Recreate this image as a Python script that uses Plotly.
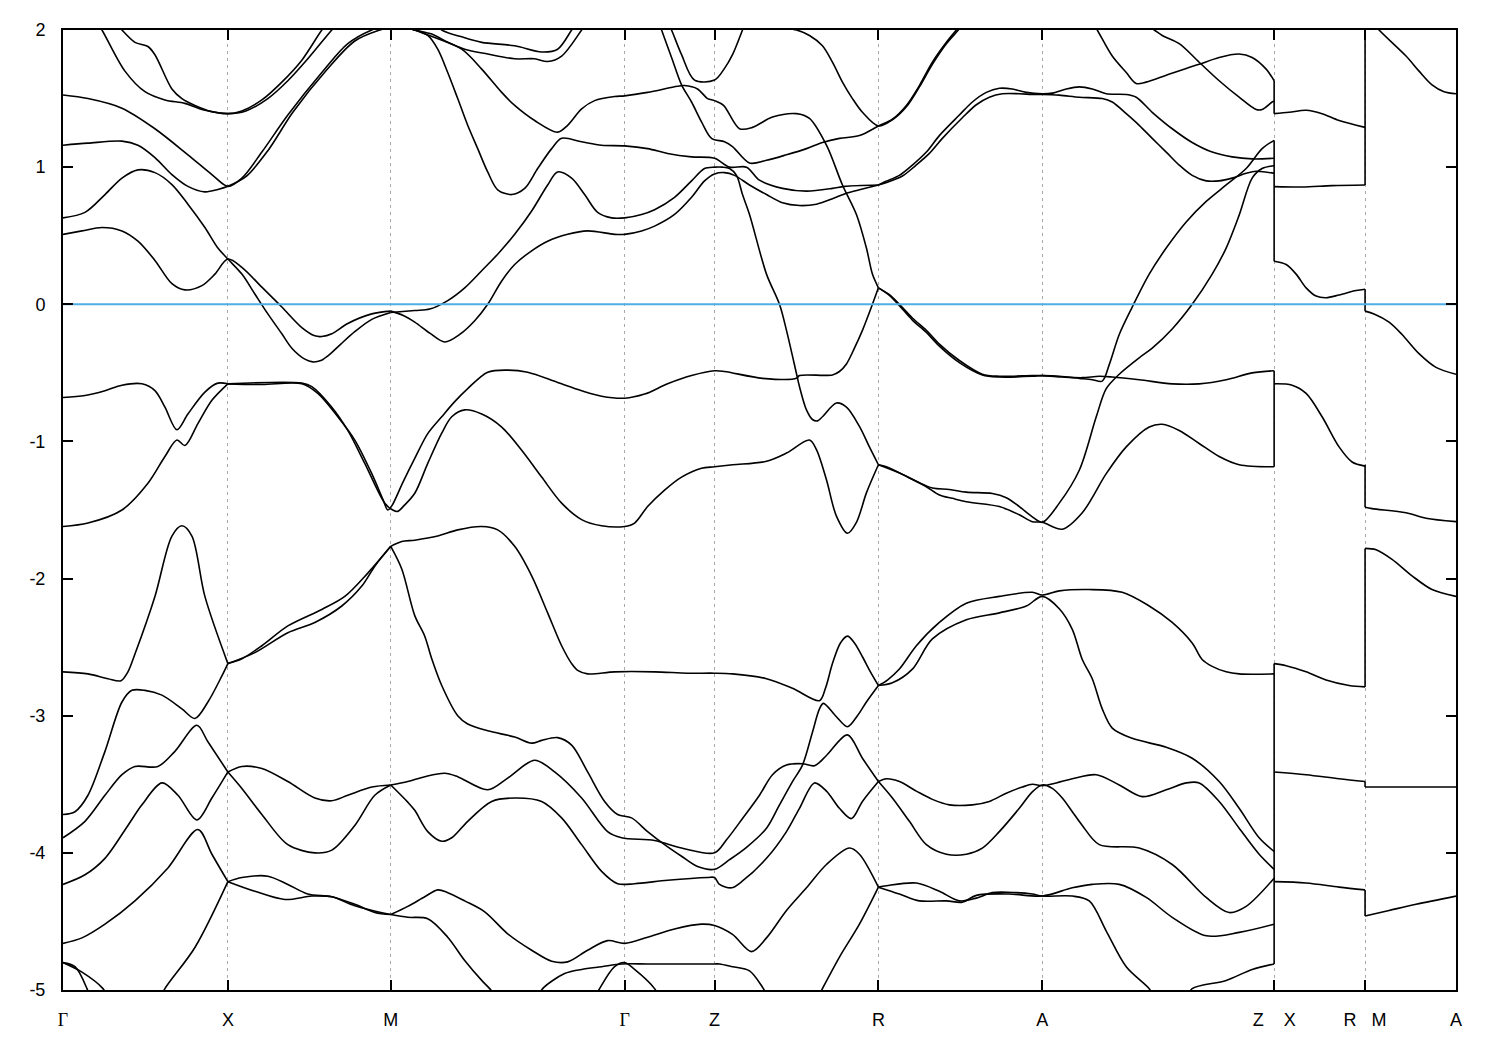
import plotly.graph_objects as go

# ---------------- high-symmetry points along the k-path ----------------
kpoint_pos = [0, 165, 328, 562, 652, 816, 980, 1212, 1303, 1394]
kpoint_lab = ['<span style="font-family:Liberation Serif">Γ</span>', "X", "M",
              '<span style="font-family:Liberation Serif">Γ</span>', "Z", "R", "A",
              "Z\u00a0\u00a0\u00a0\u00a0X", "R\u00a0\u00a0\u00a0M", "A"]
energy_ticks = [2, 1, 0, -1, -2, -3, -4, -5]
fermi_level = 0.0

# ---------------- bands (path coordinate, energy in eV) ----------------
a_k = [22, 39, 62, 82, 102, 122, 139, 165, 179, 199, 219, 239, 259, 272]
a_E = [2.2, 2.0, 1.70, 1.55, 1.49, 1.465, 1.42, 1.39, 1.41, 1.49, 1.62, 1.78, 2.0, 2.12]
b_k = [45, 59, 72, 85, 92, 109, 119, 132, 149, 165, 183, 205, 225, 245, 269, 282]
b_E = [2.12, 2.0, 1.91, 1.88, 1.82, 1.57, 1.50, 1.45, 1.405, 1.39, 1.41, 1.50, 1.63, 1.79, 2.0, 2.1]
c_k = [0, 25, 59, 92, 125, 149, 165, 179, 199, 225, 259, 285, 309, 328]
c_E = [1.526, 1.50, 1.43, 1.28, 1.09, 0.946, 0.86, 0.92, 1.11, 1.38, 1.69, 1.90, 2.0, 2.04]
d_k = [0, 25, 59, 75, 92, 109, 125, 142, 155, 165, 183, 205, 230, 264, 292, 317, 328]
d_E = [1.16, 1.175, 1.19, 1.16, 1.07, 0.946, 0.86, 0.82, 0.837, 0.86, 0.93, 1.12, 1.40, 1.71, 1.92, 2.0, 2.02]
e_k = [0, 22, 42, 59, 75, 92, 109, 125, 142, 155, 165, 179, 192, 205, 219, 229, 242, 250, 258, 266, 278, 292, 309, 328]
e_E = [0.63, 0.67, 0.80, 0.92, 0.98, 0.96, 0.873, 0.73, 0.56, 0.41, 0.33, 0.22, 0.075, -0.07, -0.215, -0.32,
       -0.40, -0.42, -0.41, -0.37, -0.29, -0.20, -0.11, -0.06]
f_k = [0, 19, 39, 59, 75, 92, 109, 122, 139, 152, 165, 179, 199, 219, 239, 252, 259, 269, 285, 309, 328]
f_E = [0.51, 0.535, 0.56, 0.535, 0.46, 0.32, 0.15, 0.105, 0.136, 0.22, 0.33, 0.27, 0.125, -0.02, -0.17,
       -0.23, -0.235, -0.215, -0.14, -0.07, -0.05]
D2_k = [328, 352, 367, 385, 402, 419, 435, 452, 469, 485, 495, 509, 522, 535, 549, 562, 579, 592, 612, 629,
        642, 652, 660, 667, 674, 680, 687, 704, 717, 724, 734, 737, 744, 750, 755, 760, 774, 784, 797, 807, 816]
D2_E = [-0.06, -0.045, -0.035, 0.027, 0.12, 0.245, 0.365, 0.51, 0.68, 0.87, 0.965, 0.92, 0.80, 0.67, 0.63,
        0.63, 0.655, 0.69, 0.78, 0.90, 0.99, 1.0, 1.0, 0.99, 0.94, 0.80, 0.655, 0.22, 0.0, -0.19, -0.505,
        -0.6, -0.77, -0.84, -0.85, -0.82, -0.72, -0.75, -0.89, -1.04, -1.17]
E2_k = [328, 340, 352, 367, 382, 397, 412, 425, 439, 452, 469, 485, 505, 525, 552, 562, 579, 592, 612, 629,
        642, 652, 662, 672, 687, 704, 720, 737, 754, 770, 784, 797, 816]
E2_E = [-0.05, -0.08, -0.13, -0.21, -0.275, -0.22, -0.12, 0.0, 0.17, 0.29, 0.39, 0.46, 0.51, 0.535, 0.51,
        0.51, 0.535, 0.57, 0.655, 0.78, 0.90, 0.95, 0.96, 0.94, 0.87, 0.80, 0.74, 0.72, 0.73, 0.77, 0.81,
        0.835, 0.87]
M1_k = [0, 22, 42, 59, 79, 92, 102, 114, 125, 142, 155, 165]
M1_E = [-0.68, -0.665, -0.63, -0.59, -0.58, -0.63, -0.75, -0.915, -0.80, -0.64, -0.575, -0.58]
M2_k = [0, 25, 59, 85, 102, 114, 122, 135, 149, 165]
M2_E = [-1.62, -1.595, -1.50, -1.305, -1.11, -0.99, -1.03, -0.87, -0.70, -0.58]
P1_k = [165, 199, 239, 255, 275, 292, 309, 320, 325, 329, 340, 352, 365, 379, 392, 405, 425, 445, 465, 495,
        519, 539, 562, 582, 605, 629, 652, 662, 700, 734, 737, 770, 777, 784, 792, 800, 810, 816]
P1_E = [-0.58, -0.585, -0.58, -0.65, -0.82, -0.99, -1.235, -1.42, -1.50, -1.47, -1.30, -1.124, -0.943, -0.82,
        -0.71, -0.615, -0.495, -0.48, -0.495, -0.57, -0.63, -0.67, -0.685, -0.655, -0.58, -0.52, -0.485,
        -0.49, -0.54, -0.54, -0.52, -0.515, -0.49, -0.435, -0.32, -0.19, 0.0, 0.12]
P2_k = [165, 239, 249, 269, 285, 302, 322, 330, 335, 341, 352, 365, 379, 389, 402, 419, 439, 459, 479, 499,
        519, 539, 562, 572, 585, 602, 619, 639, 652, 670, 704, 724, 747, 754, 764, 774, 785, 794, 804, 816]
P2_E = [-0.58, -0.575, -0.60, -0.75, -0.92, -1.16, -1.45, -1.50, -1.51, -1.47, -1.378, -1.16, -0.94, -0.82,
        -0.77, -0.80, -0.895, -1.065, -1.26, -1.45, -1.57, -1.615, -1.62, -1.595, -1.475, -1.355, -1.26,
        -1.195, -1.185, -1.17, -1.145, -1.085, -0.99, -1.06, -1.28, -1.545, -1.67, -1.59, -1.375, -1.17]
L1_k = [0, 25, 45, 58, 65, 72, 92, 109, 119, 129, 142, 165]
L1_E = [-2.68, -2.695, -2.73, -2.745, -2.68, -2.55, -2.13, -1.69, -1.615, -1.69, -2.13, -2.62]
L2_k = [0, 12, 25, 42, 59, 69, 82, 99, 119, 132, 145, 159, 165]
L2_E = [-3.72, -3.70, -3.58, -3.26, -2.90, -2.815, -2.815, -2.85, -2.95, -3.02, -2.90, -2.71, -2.62]
L3_k = [0, 22, 42, 59, 72, 95, 112, 134, 145, 165]
L3_E = [-3.89, -3.77, -3.58, -3.43, -3.37, -3.37, -3.26, -3.07, -3.19, -3.41]
L4_k = [0, 22, 42, 65, 79, 99, 115, 134, 149, 165]
L4_E = [-4.23, -4.16, -4.04, -3.80, -3.65, -3.49, -3.58, -3.76, -3.60, -3.41]
L5_k = [0, 19, 42, 72, 105, 135, 149, 165]
L5_E = [-4.66, -4.62, -4.52, -4.35, -4.11, -3.83, -4.01, -4.21]
L6_k = [96, 102, 132, 165]
L6_E = [-5.08, -4.99, -4.69, -4.21]
L7_k = [0, 12, 24, 27]
L7_E = [-4.80, -4.83, -4.99, -5.06]
L8_k = [0, 19, 40, 44]
L8_E = [-4.80, -4.87, -4.99, -5.04]
N1_k = [165, 179, 199, 225, 259, 282, 305, 328]
N1_E = [-2.62, -2.585, -2.49, -2.345, -2.225, -2.13, -1.96, -1.765]
N2_k = [165, 192, 225, 252, 279, 299, 312, 328]
N2_E = [-2.62, -2.54, -2.395, -2.32, -2.20, -2.055, -1.91, -1.765]
N3_k = [328, 339, 352, 375, 395, 419, 435, 452, 469, 485, 499, 509, 515, 525, 552, 592, 625, 652, 670, 704,
        730, 757, 763, 770, 778, 785, 792, 800, 808, 816]
N3_E = [-1.765, -1.73, -1.72, -1.69, -1.645, -1.62, -1.645, -1.765, -1.98, -2.25, -2.49, -2.62, -2.67,
        -2.695, -2.68, -2.68, -2.69, -2.69, -2.695, -2.73, -2.80, -2.89, -2.80, -2.62, -2.47, -2.42, -2.47,
        -2.57, -2.68, -2.78]
N4_k = [328, 339, 352, 362, 369, 379, 395, 405, 425, 452, 469, 479, 495, 509, 525, 542, 555, 569, 585, 602,
        619, 635, 652, 667, 684, 704, 717, 730, 740, 750, 757, 761, 773, 785, 795, 804, 816]
N4_E = [-1.765, -1.93, -2.27, -2.42, -2.585, -2.78, -3.0, -3.06, -3.11, -3.155, -3.20, -3.18, -3.16, -3.215,
        -3.41, -3.625, -3.72, -3.745, -3.845, -3.94, -4.025, -4.10, -4.12, -4.05, -3.96, -3.82, -3.65, -3.48,
        -3.36, -3.12, -2.95, -2.91, -3.0, -3.08, -3.0, -2.90, -2.78]
N5_k = [328, 345, 362, 382, 395, 425, 445, 472, 492, 519, 545, 559, 592, 619, 652, 664, 680, 697, 710, 724,
        740, 752, 764, 785, 800, 816]
N5_E = [-3.505, -3.48, -3.445, -3.42, -3.445, -3.54, -3.455, -3.325, -3.41, -3.60, -3.845, -3.89, -3.91,
        -3.965, -4.0, -3.905, -3.75, -3.58, -3.43, -3.36, -3.35, -3.365, -3.29, -3.14, -3.31, -3.48]
N6_k = [328, 345, 352, 365, 379, 389, 405, 429, 452, 479, 499, 519, 539, 555, 572, 605, 645, 652, 657, 669,
        680, 704, 724, 737, 752, 764, 777, 789, 800, 816]
N6_E = [-3.505, -3.63, -3.69, -3.845, -3.915, -3.89, -3.77, -3.625, -3.60, -3.625, -3.745, -3.94, -4.135,
        -4.225, -4.225, -4.20, -4.18, -4.18, -4.23, -4.255, -4.205, -4.04, -3.845, -3.675, -3.49, -3.55,
        -3.675, -3.75, -3.625, -3.48]
Q1_k = [165, 179, 199, 225, 252, 269, 285, 309, 328]
Q1_E = [-3.41, -3.37, -3.385, -3.48, -3.60, -3.62, -3.58, -3.52, -3.505]
Q2_k = [165, 179, 199, 225, 252, 269, 292, 312, 328]
Q2_E = [-3.41, -3.53, -3.72, -3.94, -4.0, -3.98, -3.80, -3.58, -3.505]
S1_k = [165, 179, 205, 225, 245, 269, 292, 312, 328]
S1_E = [-4.21, -4.18, -4.17, -4.23, -4.30, -4.32, -4.375, -4.435, -4.45]
S2_k = [165, 192, 222, 249, 269, 292, 328]
S2_E = [-4.21, -4.28, -4.34, -4.315, -4.32, -4.385, -4.45]
S3_k = [328, 345, 362, 375, 385, 402, 422, 445, 469, 489, 505, 525, 545, 562, 585, 612, 639, 652, 670, 689,
        704, 724, 744, 764, 787, 797, 816]
S3_E = [-4.45, -4.39, -4.32, -4.27, -4.29, -4.35, -4.43, -4.59, -4.71, -4.79, -4.795, -4.71, -4.64, -4.66,
        -4.615, -4.555, -4.52, -4.53, -4.595, -4.72, -4.62, -4.42, -4.255, -4.085, -3.965, -4.01, -4.25]
S4_k = [328, 345, 365, 385, 402, 419, 427, 434]
S4_E = [-4.45, -4.47, -4.48, -4.615, -4.785, -4.93, -4.99, -5.06]
U1_k = [475, 480, 502, 519, 539, 559, 585, 620, 652, 657, 670, 687, 700, 706]
U1_E = [-5.06, -4.99, -4.88, -4.85, -4.83, -4.81, -4.81, -4.81, -4.81, -4.81, -4.83, -4.86, -4.98, -5.06]
U2_k = [532, 537, 552, 562, 572, 592, 597]
U2_E = [-5.06, -4.99, -4.83, -4.80, -4.85, -4.99, -5.06]
A2_k = [328, 352, 365, 375, 385, 395, 405, 415, 425, 435, 449, 462, 475, 489, 499, 519, 539, 562, 585, 605,
        629, 652, 667, 684, 697, 720, 744, 770, 782, 816]
A2_E = [2.04, 2.0, 1.96, 1.86, 1.69, 1.50, 1.305, 1.135, 0.965, 0.835, 0.80, 0.845, 0.99, 1.135, 1.21, 1.185,
        1.16, 1.155, 1.135, 1.10, 1.075, 1.065, 1.0, 1.0, 0.905, 0.845, 0.825, 0.845, 0.86, 0.87]
RAt1_k = [816, 823, 837, 850, 864, 877, 897, 910, 924, 937, 950, 964, 980, 990, 1004, 1017, 1030, 1044, 1064,
          1074, 1090, 1110, 1130, 1150, 1170, 1190, 1212]
RAt1_E = [0.87, 0.895, 0.94, 1.015, 1.11, 1.23, 1.38, 1.475, 1.545, 1.575, 1.57, 1.545, 1.535, 1.54, 1.57,
          1.585, 1.57, 1.535, 1.53, 1.51, 1.40, 1.28, 1.18, 1.11, 1.075, 1.06, 1.065]
RAt2_k = [816, 825, 840, 853, 867, 880, 900, 914, 927, 940, 957, 970, 980, 997, 1017, 1040, 1050, 1064, 1077,
          1090, 1104, 1117, 1130, 1144, 1157, 1170, 1184, 1194, 1212]
RAt2_E = [0.87, 0.89, 0.935, 1.01, 1.10, 1.21, 1.36, 1.455, 1.51, 1.535, 1.535, 1.53, 1.53, 1.525, 1.51,
          1.50, 1.475, 1.39, 1.305, 1.21, 1.11, 1.015, 0.94, 0.90, 0.90, 0.92, 0.955, 0.97, 0.955]
B2_k = [328, 352, 372, 399, 419, 439, 452, 472, 495, 505, 519, 532, 552, 562, 585, 615, 622, 635, 645, 652,
        661, 677, 690, 710, 734, 747, 764, 780, 794, 804, 810, 816]
B2_E = [2.07, 2.0, 1.945, 1.86, 1.715, 1.545, 1.45, 1.34, 1.255, 1.305, 1.425, 1.485, 1.515, 1.52, 1.545,
        1.59, 1.595, 1.57, 1.50, 1.485, 1.45, 1.28, 1.29, 1.365, 1.39, 1.355, 1.16, 0.87, 0.655, 0.41, 0.22,
        0.12]
B2b_k = [816, 827, 837, 850, 864, 877, 897, 920, 937, 970, 980, 997, 1017, 1030, 1040, 1047, 1057, 1070,
         1087, 1104, 1124, 1144, 1164, 1184, 1200, 1212]
B2b_E = [0.12, 0.07, 0.0, -0.10, -0.19, -0.29, -0.41, -0.51, -0.525, -0.52, -0.52, -0.525, -0.54, -0.55,
         -0.56, -0.44, -0.22, -0.02, 0.22, 0.41, 0.60, 0.75, 0.87, 0.99, 1.135, 1.195]
P1b_k = [816, 827, 837, 850, 864, 877, 897, 920, 937, 970, 980, 1000, 1020, 1037, 1050, 1077, 1110, 1137,
         1164, 1190, 1212]
P1b_E = [0.12, 0.065, -0.01, -0.115, -0.205, -0.305, -0.425, -0.515, -0.53, -0.525, -0.52, -0.53, -0.535,
         -0.525, -0.53, -0.55, -0.58, -0.58, -0.55, -0.50, -0.485]
TS_k = [590, 599, 609, 619, 629, 639, 649, 662, 670, 687, 704, 724, 744, 760, 777, 797, 816, 830, 844, 857,
        870, 884, 894, 905]
TS_E = [2.18, 2.0, 1.80, 1.60, 1.475, 1.33, 1.21, 1.185, 1.15, 1.03, 1.05, 1.09, 1.135, 1.18, 1.21, 1.23,
        1.30, 1.35, 1.45, 1.595, 1.765, 1.91, 2.0, 2.1]
Z163_k = [600, 609, 619, 632, 652, 662, 670, 680, 688]
Z163_E = [2.15, 2.0, 1.82, 1.635, 1.635, 1.72, 1.82, 2.0, 2.15]
ZRt_k = [700, 715, 734, 747, 760, 770, 780, 790, 800, 816, 830, 844, 857, 870, 884, 896, 907]
ZRt_E = [2.04, 2.02, 2.0, 1.96, 1.885, 1.765, 1.62, 1.50, 1.40, 1.30, 1.345, 1.44, 1.585, 1.75, 1.90, 2.0, 2.1]
C2a_k = [365, 379, 399, 419, 452, 479, 495, 509, 520]
C2a_E = [2.1, 2.0, 1.95, 1.91, 1.885, 1.84, 1.86, 2.0, 2.12]
C2b_k = [328, 352, 369, 385, 402, 425, 452, 472, 485, 499, 519, 530]
C2b_E = [2.05, 2.0, 1.97, 1.91, 1.86, 1.825, 1.79, 1.79, 1.77, 1.81, 2.0, 2.12]
T1_k = [1025, 1035, 1050, 1064, 1074, 1084, 1104, 1124, 1137, 1157, 1177, 1190, 1204, 1212]
T1_E = [2.12, 2.0, 1.81, 1.69, 1.61, 1.62, 1.67, 1.72, 1.75, 1.80, 1.825, 1.80, 1.715, 1.63]
T2_k = [1080, 1092, 1100, 1117, 1137, 1157, 1177, 1194, 1200, 1210, 1212]
T2_E = [2.05, 2.0, 1.96, 1.90, 1.765, 1.63, 1.51, 1.42, 1.42, 1.475, 1.48]
RAm1_k = [816, 824, 844, 864, 877, 890, 904, 937, 957, 970, 980, 1000, 1020, 1044, 1064, 1087, 1100, 1117,
          1137, 1157, 1177, 1212]
RAm1_E = [-1.17, -1.185, -1.255, -1.33, -1.39, -1.415, -1.44, -1.475, -1.535, -1.585, -1.59, -1.64, -1.52,
          -1.235, -1.04, -0.895, -0.875, -0.92, -1.015, -1.11, -1.17, -1.185]
RAm2_k = [816, 837, 854, 870, 887, 904, 930, 944, 957, 970, 980, 997, 1017, 1034, 1044, 1057, 1077, 1090,
          1110, 1130, 1150, 1164, 1177, 1190, 1200, 1212]
RAm2_E = [-1.17, -1.23, -1.29, -1.34, -1.35, -1.37, -1.38, -1.41, -1.475, -1.55, -1.59, -1.45, -1.21, -0.82,
          -0.615, -0.51, -0.39, -0.32, -0.18, 0.0, 0.22, 0.41, 0.65, 0.92, 0.99, 1.01]
V1_k = [816, 825, 837, 854, 877, 904, 937, 970, 980, 997, 1027, 1060, 1087, 1110, 1130, 1140, 1150, 1164,
        1177, 1212]
V1_E = [-2.78, -2.74, -2.66, -2.49, -2.32, -2.18, -2.13, -2.10, -2.12, -2.09, -2.08, -2.10, -2.20, -2.32,
        -2.47, -2.59, -2.64, -2.68, -2.695, -2.695]
V2_k = [816, 830, 850, 870, 904, 937, 964, 980, 997, 1010, 1020, 1030, 1040, 1050, 1070, 1104, 1130, 1157,
        1177, 1197, 1212]
V2_E = [-2.78, -2.76, -2.66, -2.44, -2.30, -2.25, -2.20, -2.13, -2.22, -2.37, -2.59, -2.73, -2.95, -3.09,
        -3.165, -3.23, -3.31, -3.48, -3.675, -3.89, -3.99]
W1_k = [816, 824, 837, 854, 870, 887, 910, 927, 944, 960, 970, 980, 994, 1010, 1034, 1057, 1080, 1104, 1124,
        1137, 1157, 1177, 1197, 1212]
W1_E = [-3.48, -3.46, -3.48, -3.55, -3.61, -3.65, -3.65, -3.625, -3.565, -3.52, -3.50, -3.51, -3.49, -3.46,
        -3.43, -3.505, -3.59, -3.54, -3.49, -3.49, -3.625, -3.82, -4.01, -4.12]
W2_k = [816, 830, 847, 864, 884, 904, 920, 937, 957, 970, 980, 990, 1000, 1010, 1020, 1037, 1077, 1110, 1144,
        1167, 1184, 1212]
W2_E = [-3.48, -3.60, -3.77, -3.94, -4.01, -4.01, -3.965, -3.845, -3.675, -3.555, -3.505, -3.53, -3.60, -3.70,
        -3.80, -3.94, -3.965, -4.085, -4.325, -4.435, -4.39, -4.185]
X1_k = [816, 824, 854, 877, 897, 914, 930, 954, 970, 980, 1010, 1027, 1044, 1064, 1087, 1092]
X1_E = [-4.25, -4.24, -4.22, -4.28, -4.35, -4.33, -4.29, -4.29, -4.30, -4.315, -4.315, -4.35, -4.57, -4.83,
        -4.99, -5.05]
X2_k = [816, 837, 857, 884, 900, 914, 947, 980, 1010, 1030, 1057, 1084, 1110, 1144, 1177, 1212]
X2_E = [-4.25, -4.30, -4.35, -4.35, -4.36, -4.31, -4.30, -4.315, -4.255, -4.23, -4.23, -4.325, -4.47, -4.605,
        -4.58, -4.52]
Y1_k = [1125, 1130, 1164, 1190, 1212]
Y1_E = [-5.06, -4.99, -4.93, -4.85, -4.81]
I1_k = [755, 760, 777, 797, 816]
I1_E = [-5.06, -4.99, -4.76, -4.52, -4.25]
# X -> R
XR1_k = [1212, 1227, 1244, 1260, 1277, 1303]
XR1_E = [1.39, 1.40, 1.415, 1.39, 1.34, 1.29]
XR2_k = [1212, 1240, 1270, 1303]
XR2_E = [0.858, 0.855, 0.865, 0.87]
XR3_k = [1212, 1224, 1234, 1244, 1254, 1264, 1277, 1294, 1303]
XR3_E = [0.314, 0.29, 0.22, 0.12, 0.06, 0.048, 0.068, 0.10, 0.11]
XR4_k = [1212, 1230, 1244, 1260, 1277, 1290, 1303]
XR4_E = [-0.58, -0.59, -0.65, -0.82, -1.04, -1.15, -1.18]
XR5_k = [1212, 1224, 1244, 1264, 1287, 1303]
XR5_E = [-2.62, -2.635, -2.68, -2.74, -2.78, -2.79]
XR6_k = [1212, 1244, 1277, 1303]
XR6_E = [-3.41, -3.43, -3.46, -3.48]
XR7_k = [1212, 1244, 1277, 1303]
XR7_E = [-4.21, -4.22, -4.25, -4.27]
# M -> A
MA0_k = [1303, 1317, 1344, 1357, 1370, 1382, 1394]
MA0_E = [2.12, 2.0, 1.81, 1.70, 1.60, 1.55, 1.535]
MA1_k = [1303, 1312, 1327, 1340, 1357, 1374, 1394]
MA1_E = [-0.05, -0.07, -0.13, -0.22, -0.36, -0.46, -0.51]
MA2_k = [1303, 1310, 1344, 1364, 1394]
MA2_E = [-1.48, -1.49, -1.52, -1.56, -1.585]
MA3_k = [1303, 1314, 1330, 1350, 1370, 1394]
MA3_E = [-1.78, -1.79, -1.86, -1.98, -2.08, -2.13]
MA4_k = [1303, 1394]
MA4_E = [-3.52, -3.52]
MA5_k = [1303, 1327, 1354, 1394]
MA5_E = [-4.46, -4.42, -4.375, -4.315]

# discontinuities of the path (Z|X and R|M): energies joined by vertical segments
zx_jump_upper = [1.63, 1.195, -0.485, -2.62]
zx_jump_lower = [1.39, 0.314, -1.185, -4.81]
rm_jump_upper = [2.12, 0.11, -1.17, -1.78, -3.48, -4.27]
rm_jump_lower = [0.87, -0.05, -1.48, -2.79, -3.52, -4.46]

bands = [
    (a_k, a_E), (b_k, b_E), (c_k, c_E), (d_k, d_E), (e_k, e_E), (f_k, f_E), (D2_k, D2_E), (E2_k, E2_E),
    (M1_k, M1_E), (M2_k, M2_E), (P1_k, P1_E), (P2_k, P2_E), (L1_k, L1_E), (L2_k, L2_E), (L3_k, L3_E),
    (L4_k, L4_E), (L5_k, L5_E), (L6_k, L6_E), (L7_k, L7_E), (L8_k, L8_E), (N1_k, N1_E), (N2_k, N2_E),
    (N3_k, N3_E), (N4_k, N4_E), (N5_k, N5_E), (N6_k, N6_E), (Q1_k, Q1_E), (Q2_k, Q2_E), (S1_k, S1_E),
    (S2_k, S2_E), (S3_k, S3_E), (S4_k, S4_E), (U1_k, U1_E), (U2_k, U2_E), (A2_k, A2_E), (RAt1_k, RAt1_E),
    (RAt2_k, RAt2_E), (B2_k, B2_E), (B2b_k, B2b_E), (P1b_k, P1b_E), (TS_k, TS_E), (Z163_k, Z163_E),
    (ZRt_k, ZRt_E), (C2a_k, C2a_E), (C2b_k, C2b_E), (T1_k, T1_E), (T2_k, T2_E), (RAm1_k, RAm1_E),
    (RAm2_k, RAm2_E), (V1_k, V1_E), (V2_k, V2_E), (W1_k, W1_E), (W2_k, W2_E), (X1_k, X1_E), (X2_k, X2_E),
    (Y1_k, Y1_E), (I1_k, I1_E), (XR1_k, XR1_E), (XR2_k, XR2_E), (XR3_k, XR3_E), (XR4_k, XR4_E),
    (XR5_k, XR5_E), (XR6_k, XR6_E), (XR7_k, XR7_E), (MA0_k, MA0_E), (MA1_k, MA1_E), (MA2_k, MA2_E),
    (MA3_k, MA3_E), (MA4_k, MA4_E), (MA5_k, MA5_E),
]

fig = go.Figure()

band_line = dict(color="black", width=1.6, shape="spline", smoothing=0.9)
for kk, ee in bands:
    fig.add_trace(go.Scatter(x=kk, y=ee, mode="lines", line=band_line,
                             hoverinfo="skip", showlegend=False))

k_zx = kpoint_pos[7]
k_rm = kpoint_pos[8]
for hi, lo in zip(zx_jump_upper, zx_jump_lower):
    fig.add_trace(go.Scatter(x=[k_zx, k_zx], y=[lo, hi], mode="lines",
                             line=dict(color="black", width=1.6), hoverinfo="skip", showlegend=False))
for hi, lo in zip(rm_jump_upper, rm_jump_lower):
    fig.add_trace(go.Scatter(x=[k_rm, k_rm], y=[lo, hi], mode="lines",
                             line=dict(color="black", width=1.6), hoverinfo="skip", showlegend=False))

# Fermi level
fig.add_trace(go.Scatter(x=[kpoint_pos[0], kpoint_pos[-1]], y=[fermi_level, fermi_level], mode="lines",
                         line=dict(color="#4FAEE6", width=2), hoverinfo="skip", showlegend=False))

axis_font = dict(family="Liberation Sans, Arial, sans-serif", size=18, color="black")
fig.update_layout(
    width=1484, height=1034,
    margin=dict(l=55, r=36, t=20, b=50),
    paper_bgcolor="white", plot_bgcolor="white",
    showlegend=False,
    xaxis=dict(
        range=[kpoint_pos[0], kpoint_pos[-1]],
        tickmode="array", tickvals=kpoint_pos, ticktext=kpoint_lab,
        ticks="inside", ticklen=10, tickwidth=1.5, tickcolor="black",
        showline=True, linecolor="black", linewidth=2, mirror="ticks",
        showgrid=True, gridcolor="#a8a8a8", gridwidth=1, griddash="3px,4px",
        zeroline=False, tickfont=axis_font, ticklabelstandoff=12,
    ),
    yaxis=dict(
        range=[-5, 2],
        tickmode="array", tickvals=energy_ticks, ticktext=[str(v) for v in energy_ticks],
        ticks="inside", ticklen=10, tickwidth=1.5, tickcolor="black",
        showline=True, linecolor="black", linewidth=2, mirror="ticks",
        showgrid=False, zeroline=False, tickfont=axis_font, ticklabelstandoff=12,
    ),
)

fig.write_html("out.html")
